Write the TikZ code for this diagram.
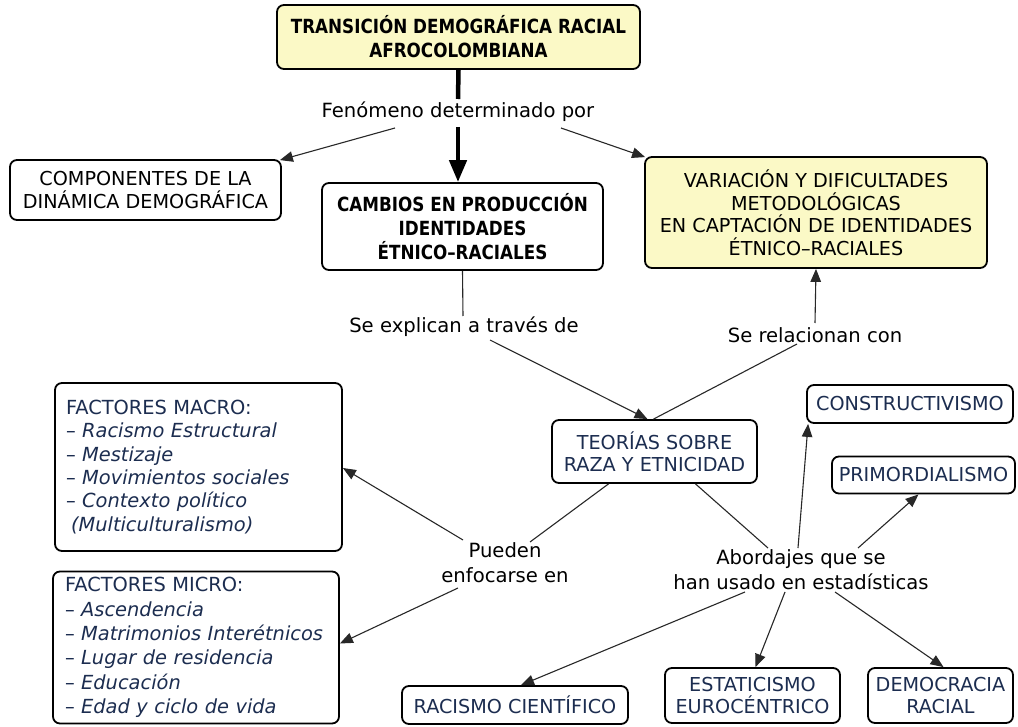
\documentclass[tikz,border=0pt]{standalone}
\usepackage{fontspec}
\setmainfont{DejaVu Sans}
\newfontfamily\titlefont{DejaVu Sans}[FakeStretch=0.86]
\usetikzlibrary{arrows.meta,calc}
\definecolor{navy}{RGB}{28,45,80}
\definecolor{paleyellow}{RGB}{251,249,198}
\definecolor{linegray}{RGB}{40,40,40}
\begin{document}
\begin{tikzpicture}[x=1pt,y=-1pt,
  box/.style={draw=black, line width=1.8pt, rounded corners=7pt, fill=white, align=center, inner sep=0pt, font=\fontsize{19.2}{22.5}\selectfont},
  hlbox/.style={box, fill=paleyellow},
  navybox/.style={box, text=navy},
  boldtxt/.style={font=\titlefont\bfseries\fontsize{19.5}{24}\selectfont},
  lbl/.style={align=center, inner sep=0pt, font=\fontsize{19.6}{25}\selectfont},
  conn/.style={draw=linegray, line width=1.1pt},
  arr/.style={conn, -{Triangle[length=13pt,width=10.5pt]}},
  heavyline/.style={draw=black, line width=4.5pt},
]
\fill[white] (0,0) rectangle (1018,727);
\useasboundingbox (0,0) rectangle (1018,727);

% nodes
\node[hlbox, boldtxt, minimum width=363pt, minimum height=64pt] (title) at (458.5,37) {TRANSICIÓN DEMOGRÁFICA RACIAL\\AFROCOLOMBIANA};
\node[lbl] (l1) at (458,112) {Fenómeno determinado por};
\node[box, minimum width=271pt, minimum height=60pt] (comp) at (145.5,190) {COMPONENTES DE LA\\DINÁMICA DEMOGRÁFICA};
\node[box, boldtxt, minimum width=281pt, minimum height=87pt] (camb) at (462.5,226.5) {CAMBIOS EN PRODUCCIÓN\\IDENTIDADES\\ÉTNICO–RACIALES};
\node[hlbox, minimum width=342pt, minimum height=111pt] (var) at (816,212.5) {VARIACIÓN Y DIFICULTADES\\METODOLÓGICAS\\EN CAPTACIÓN DE IDENTIDADES\\ÉTNICO–RACIALES};
\node[lbl] (l2) at (464,327) {Se explican a través de};
\node[lbl] (l3) at (815,335) {Se relacionan con};
\node[navybox, minimum width=205pt, minimum height=63pt] (teo) at (654.5,451.5) {TEORÍAS SOBRE\\RAZA Y ETNICIDAD};
\node[lbl] (l4) at (505,563) {Pueden\\enfocarse en};
\node[lbl] (l5) at (801,570) {Abordajes que se\\han usado en estadísticas};
\node[navybox, align=left, text width=265pt, minimum width=287pt, minimum height=168pt, font=\fontsize{19.4}{23.3}\selectfont] (macro) at (198.5,467) {FACTORES MACRO:\\
– \textit{Racismo Estructural}\\
– \textit{Mestizaje}\\
– \textit{Movimientos sociales}\\
– \textit{Contexto político}\\
\hspace*{5pt}\textit{(Multiculturalismo)}};
\node[navybox, align=left, text width=262pt, minimum width=286pt, minimum height=152pt, font=\fontsize{19.4}{24.3}\selectfont] (micro) at (196,647.5) {FACTORES MICRO:\\
– \textit{Ascendencia}\\
– \textit{Matrimonios Interétnicos}\\
– \textit{Lugar de residencia}\\
– \textit{Educación}\\
– \textit{Edad y ciclo de vida}};
\node[navybox, minimum width=206pt, minimum height=38pt] (constr) at (910,404) {CONSTRUCTIVISMO};
\node[navybox, minimum width=183pt, minimum height=37pt] (primord) at (923.5,475) {PRIMORDIALISMO};
\node[navybox, minimum width=226pt, minimum height=38pt] (racismo) at (515,705) {RACISMO CIENTÍFICO};
\node[navybox, minimum width=175pt, minimum height=55pt] (estat) at (752.5,695.5) {ESTATICISMO\\EUROCÉNTRICO};
\node[navybox, minimum width=145pt, minimum height=55pt] (democ) at (940.5,695.5) {DEMOCRACIA\\RACIAL};

% connectors
\draw[heavyline] (title.south) -- ($(l1)+(0,-13)$);
\draw[heavyline, -{Triangle[length=22pt,width=17pt]}] ($(l1)+(0,15)$) -- (camb.north -| l1);
\draw[arr] ($(l1)+(-63,16)$) -- ($(comp.north east)+(-2,1)$);
\draw[arr] ($(l1)+(103,16)$) -- ($(var.north west)+(1,1)$);
\draw[conn] (camb.south) -- ($(l2)+(-1,-11)$);
\draw[arr] ($(l2)+(26,13)$) -- ($(teo.north)+(-7,0)$);
\draw[conn] ($(teo.north)+(-1,0)$) -- ($(l3)+(-18,9)$);
\draw[arr] ($(l3)+(0,-12)$) -- (var.south);
\draw[conn] ($(teo.south)+(-46,0)$) -- ($(l4)+(25,-21)$);
\draw[arr] ($(l4)+(-42,-23)$) -- ($(macro.east)+(0,1)$);
\draw[arr] ($(l4)+(-47,25)$) -- ($(micro.east)+(0,-4)$);
\draw[conn] ($(teo.south)+(41,0)$) -- ($(l5)+(-33,-22)$);
\draw[arr] ($(l5)+(-3,-22)$) -- ($(constr.south west)+(2,0)$);
\draw[arr] ($(l5)+(57,-22)$) -- ($(primord.south)+(-5,0)$);
\draw[arr] ($(l5)+(-56,22)$) -- ($(racismo.north)+(6,0)$);
\draw[arr] ($(l5)+(-16,22)$) -- ($(estat.north)+(3,0)$);
\draw[arr] ($(l5)+(34,22)$) -- ($(democ.north)+(3,0)$);
\end{tikzpicture}
\end{document}
